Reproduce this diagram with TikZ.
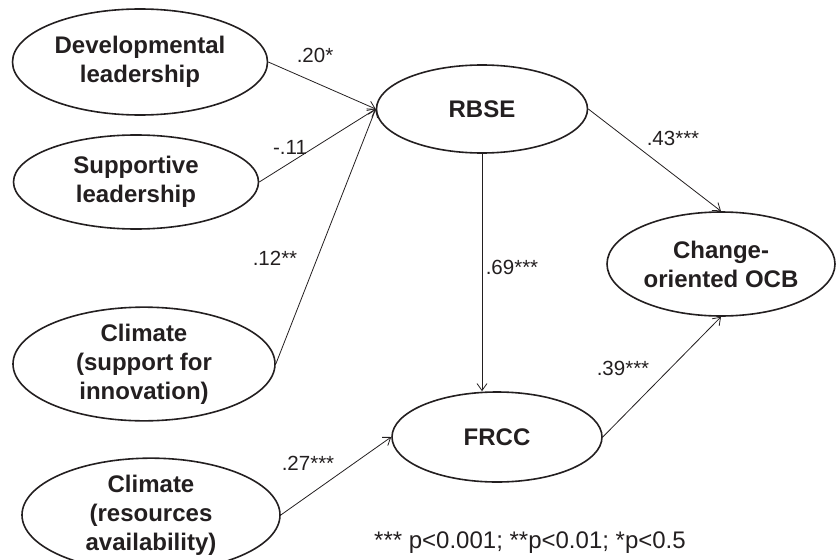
\documentclass[tikz,border=0pt]{standalone}
\usepackage{fontspec}
\setmainfont{Liberation Sans}
\usetikzlibrary{shapes.geometric,arrows.meta}
\definecolor{ink}{HTML}{231F20}
\tikzset{
  latent/.style={draw=ink, ellipse, line width=1.6pt, inner sep=0pt, align=center,
    text=ink, font=\bfseries\fontsize{24}{29}\selectfont},
  path/.style={draw=ink, line width=0.8pt, -{Straight Barb[length=7pt,width=10pt]}},
  coef/.style={text=ink, inner sep=0pt, font=\fontsize{20.5}{24}\selectfont},
}
\begin{document}
\begin{tikzpicture}[x=1pt,y=-1pt]
\useasboundingbox (0,0) rectangle (837,559);
\node[latent, minimum width=255pt, minimum height=106pt] (dev) at (140,62) {Developmental\\leadership};
\node[latent, minimum width=245pt, minimum height=94pt] (sup) at (136,182) {Supportive\\leadership};
\node[latent, minimum width=262pt, minimum height=108pt] (cs) at (144,364) {Climate\\(support for\\innovation)};
\node[latent, minimum width=258pt, minimum height=106pt] (cr) at (151,515) {Climate\\(resources\\availability)};
\node[latent, minimum width=211pt, minimum height=88pt] (rbse) at (482,109) {RBSE};
\node[latent, minimum width=210pt, minimum height=90pt] (frcc) at (497,437) {FRCC};
\node[latent, minimum width=228pt, minimum height=104pt] (ocb) at (721,264) {Change-\\oriented OCB};

\draw[path] (dev.east) -- (rbse.west);
\draw[path] (sup.east) -- (rbse.west);
\draw[path] (cs.east) -- (rbse.west);
\draw[path] (cr.east) -- (frcc.west);
\draw[path] (rbse.east) -- (ocb.north);
\draw[path] (frcc.east) -- (ocb.south);
\draw[path] (rbse.south) -- (frcc.north -| rbse.south);

\node[coef] (l1) at (315,55) {.20*};
\node[coef] (l2) at (290,147) {-.11};
\node[coef] (l3) at (275,258) {.12**};
\node[coef] (l4) at (308,463) {.27***};
\node[coef] (l5) at (673,138) {.43***};
\node[coef] (l6) at (512,267) {.69***};
\node[coef] (l7) at (623,368) {.39***};
\node[coef, font=\fontsize{24}{28}\selectfont] (note) at (530,543) {*** p<0.001; **p<0.01; *p<0.5};
\end{tikzpicture}
\end{document}
